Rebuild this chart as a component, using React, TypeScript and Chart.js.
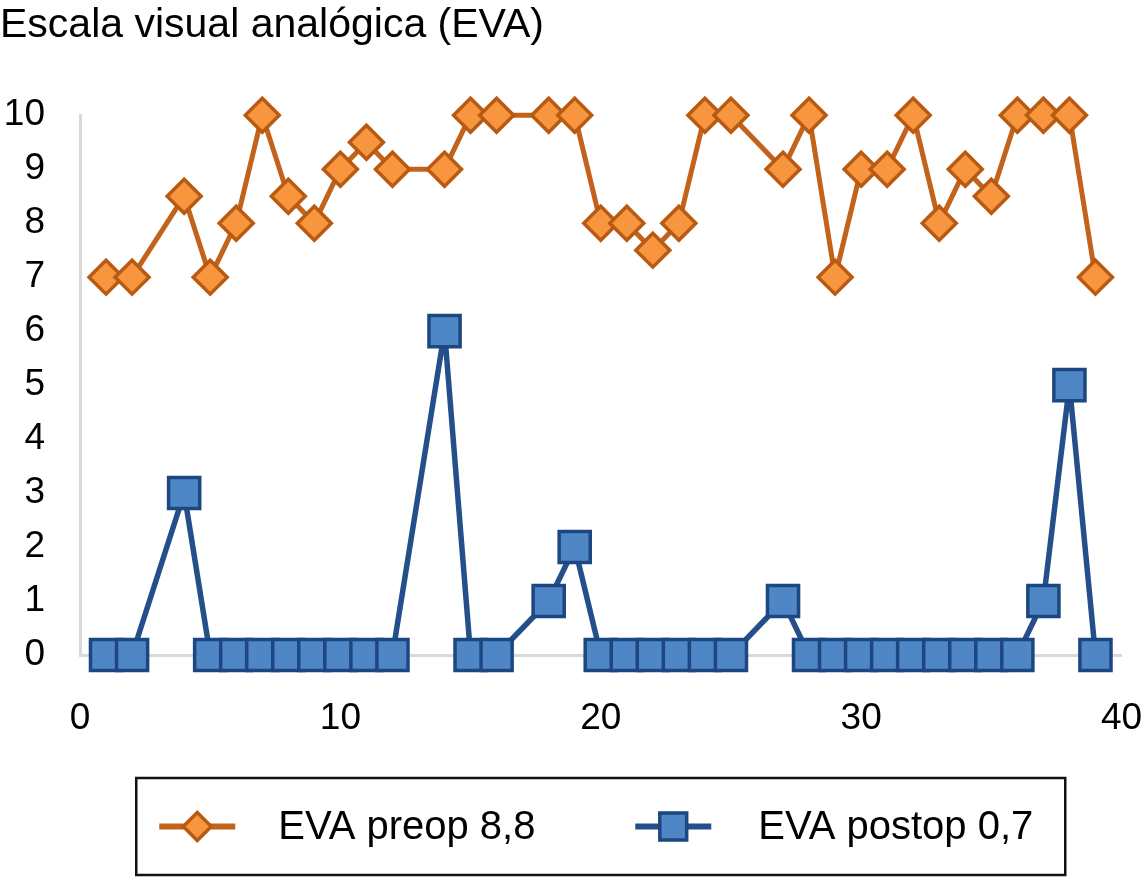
import React, { useEffect, useRef } from "react";
import { Chart, registerables } from "chart.js";

Chart.register(...registerables);

const chartTitle = "Escala visual analógica (EVA)";
const patientIds = [1, 2, 4, 5, 6, 7, 8, 9, 10, 11, 12, 14, 15, 16, 18, 19, 20, 21, 22, 23, 24, 25, 27, 28, 29, 30, 31, 32, 33, 34, 35, 36, 37, 38, 39];
const evaPreop = [7, 7, 8.5, 7, 8, 10, 8.5, 8, 9, 9.5, 9, 9, 10, 10, 10, 10, 8, 8, 7.5, 8, 10, 10, 9, 10, 7, 9, 9, 10, 8, 9, 8.5, 10, 10, 10, 7];
const evaPostop = [0, 0, 3, 0, 0, 0, 0, 0, 0, 0, 0, 6, 0, 0, 1, 2, 0, 0, 0, 0, 0, 0, 1, 0, 0, 0, 0, 0, 0, 0, 0, 0, 1, 5, 0];
const seriesLabels = ["EVA preop 8,8", "EVA postop 0,7"];
const xTickValues = [0, 10, 20, 30, 40];
const yTickValues = [0, 1, 2, 3, 4, 5, 6, 7, 8, 9, 10];

const FONT = "'Liberation Sans', Arial, Helvetica, sans-serif";

const ORANGE_LINE = "#C2621B";
const ORANGE_FILL = "#F7963F";
const ORANGE_BORDER = "#B95A12";
const BLUE_LINE = "#244F8A";
const BLUE_FILL = "#4F86C6";
const BLUE_BORDER = "#1D4781";

function drawMarker(ctx: CanvasRenderingContext2D, style: string, x: number, y: number, r: number, fill: string, border: string, bw: number) {
  ctx.save();
  ctx.beginPath();
  if (style === "rectRot") {
    ctx.moveTo(x, y - r);
    ctx.lineTo(x + r, y);
    ctx.lineTo(x, y + r);
    ctx.lineTo(x - r, y);
    ctx.closePath();
  } else {
    const s = r * Math.SQRT1_2;
    ctx.rect(x - s, y - s, 2 * s, 2 * s);
  }
  ctx.fillStyle = fill;
  ctx.fill();
  ctx.lineWidth = bw;
  ctx.strokeStyle = border;
  ctx.stroke();
  ctx.restore();
}

const legendBoxPlugin = {
  id: "legendBox",
  afterDraw(chart: any) {
    const ctx: CanvasRenderingContext2D = chart.ctx;
    const { left, right, bottom } = chart.chartArea;
    const boxW = 929;
    const boxH = 97;
    const cx = (left + right) / 2;
    const bx = cx - boxW / 2;
    const by = bottom + 123;
    ctx.save();
    ctx.lineWidth = 2.5;
    ctx.strokeStyle = "#111";
    ctx.strokeRect(bx, by, boxW, boxH);
    const midY = by + boxH / 2;
    const items = [
      { offMarker: 61, offText: 142, ds: chart.data.datasets[0] },
      { offMarker: 537, offText: 622, ds: chart.data.datasets[1] },
    ];
    items.forEach((it) => {
      const mx = bx + it.offMarker;
      ctx.beginPath();
      ctx.lineWidth = 6;
      ctx.strokeStyle = it.ds.borderColor;
      ctx.moveTo(mx - 38, midY);
      ctx.lineTo(mx + 38, midY);
      ctx.stroke();
      drawMarker(ctx, it.ds.pointStyle, mx, midY, it.ds.pointStyle === "rectRot" ? 14 : 19, it.ds.pointBackgroundColor, it.ds.pointBorderColor, 3.5);
      ctx.fillStyle = "#000";
      ctx.font = `40px ${FONT}`;
      ctx.textAlign = "left";
      ctx.textBaseline = "middle";
      ctx.fillText(it.ds.label, bx + it.offText, midY + 1);
    });
    ctx.restore();
  },
};

export default function App() {
  const canvasRef = useRef<HTMLCanvasElement | null>(null);

  useEffect(() => {
    document.body.style.margin = "0";
    const canvas = canvasRef.current;
    if (!canvas) return;

    const preopPoints = patientIds.map((id, i) => ({ x: id, y: evaPreop[i] }));
    const postopPoints = patientIds.map((id, i) => ({ x: id, y: evaPostop[i] }));

    const chart = new Chart(canvas, {
      type: "line",
      data: {
        datasets: [
          {
            label: seriesLabels[0],
            data: preopPoints,
            borderColor: ORANGE_LINE,
            borderWidth: 5,
            borderJoinStyle: "round",
            pointStyle: "rectRot",
            pointRadius: 17,
            pointBackgroundColor: ORANGE_FILL,
            pointBorderColor: ORANGE_BORDER,
            pointBorderWidth: 3.5,
            tension: 0,
            clip: false,
          } as any,
          {
            label: seriesLabels[1],
            data: postopPoints,
            borderColor: BLUE_LINE,
            borderWidth: 5.5,
            borderJoinStyle: "round",
            pointStyle: "rect",
            pointRadius: 22,
            pointBackgroundColor: BLUE_FILL,
            pointBorderColor: BLUE_BORDER,
            pointBorderWidth: 3.5,
            tension: 0,
            clip: false,
          } as any,
        ],
      },
      options: {
        animation: false,
        responsive: true,
        maintainAspectRatio: false,
        layout: { padding: { left: 0, right: 0, top: 0, bottom: 0 } },
        plugins: {
          legend: { display: false },
          tooltip: { enabled: false },
          title: {
            display: true,
            text: chartTitle,
            align: "start",
            color: "#000",
            font: { family: FONT, size: 41, weight: "normal" },
            padding: { top: 1, bottom: 65 },
          },
        },
        scales: {
          x: {
            type: "linear",
            min: 0,
            max: 40,
            afterFit: (s: any) => {
              s.height = 224;
              s.paddingLeft = 0;
              s.paddingRight = 24;
            },
            afterBuildTicks: (s: any) => {
              s.ticks = xTickValues.map((v) => ({ value: v }));
            },
            ticks: {
              color: "#000",
              font: { family: FONT, size: 37 },
              padding: 42,
              maxRotation: 0,
            },
            grid: { display: false, drawTicks: false },
            border: { display: true, color: "#d9d9d9", width: 3 },
          },
          y: {
            type: "linear",
            min: 0,
            max: 10,
            afterFit: (s: any) => {
              s.width = 80;
            },
            afterBuildTicks: (s: any) => {
              s.ticks = yTickValues.map((v) => ({ value: v }));
            },
            ticks: {
              color: "#000",
              font: { family: FONT, size: 37 },
              padding: 35,
            },
            grid: { display: false, drawTicks: false },
            border: { display: true, color: "#d9d9d9", width: 3 },
          },
        },
      },
      plugins: [legendBoxPlugin],
    });

    return () => {
      chart.destroy();
    };
  }, []);

  return (
    <div style={{ position: "relative", width: "1147px", height: "879px", background: "#fff" }}>
      <style>{"body{margin:0;}"}</style>
      <canvas ref={canvasRef} />
    </div>
  );
}
